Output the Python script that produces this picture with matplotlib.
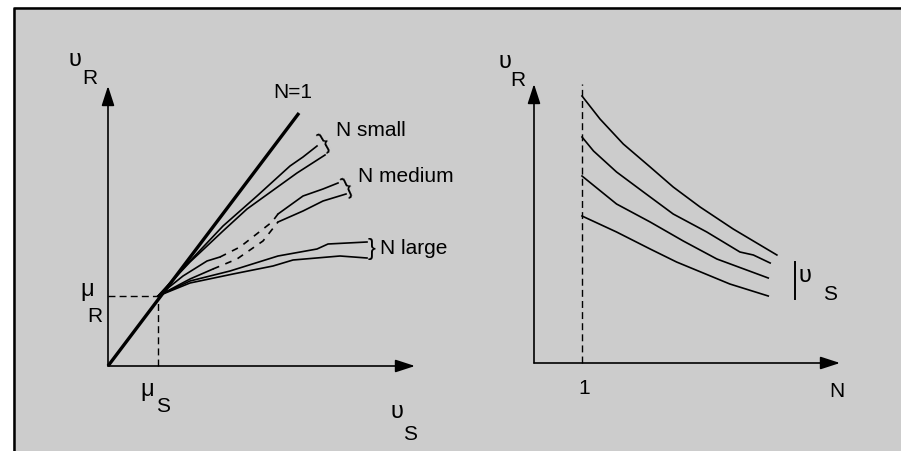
import matplotlib
matplotlib.use("Agg")
import matplotlib.pyplot as plt
from matplotlib.patches import Rectangle
from matplotlib.lines import Line2D

plt.rcParams['font.family'] = ['Liberation Sans', 'DejaVu Sans']

# ---- left panel data (units of 10 px from origin) ----
mu_S, mu_R = 5.0, 7.0
n1_x = [0.0, 19.1]
n1_y = [0.0, 25.3]

small_up_x = [5.0, 8.2, 11.5, 14.9, 18.2, 19.5, 20.9]
small_up_y = [7.0, 10.5, 14.0, 17.0, 20.0, 20.9, 22.0]
small_lo_x = [5.0, 8.2, 11.5, 13.9, 16.4, 18.9, 21.7]
small_lo_y = [7.0, 10.4, 13.5, 15.7, 17.5, 19.3, 21.1]

# medium curves: solid start, dashed middle, solid end
med_up_x = [[5.0, 7.5, 9.9, 11.2], [11.2, 13.2, 16.4, 17.0], [17.0, 19.5, 21.5, 23.0]]
med_up_y = [[7.0, 9.0, 10.5, 10.9], [10.9, 11.9, 14.4, 15.2], [15.2, 17.0, 17.7, 18.3]]
med_lo_x = [[5.0, 8.2, 10.5], [10.5, 12.9, 15.5, 17.0], [17.0, 19.5, 21.5, 23.8]]
med_lo_y = [[7.0, 8.7, 9.7], [9.7, 10.7, 12.5, 14.4], [14.4, 15.5, 16.5, 17.2]]

large_up_x = [5.0, 8.2, 12.2, 17.0, 20.9, 22.0, 25.9]
large_up_y = [7.0, 8.5, 9.5, 11.0, 11.7, 12.2, 12.4]
large_lo_x = [5.0, 8.2, 12.5, 16.5, 18.5, 23.2, 25.9]
large_lo_y = [7.0, 8.3, 9.2, 10.0, 10.6, 11.0, 10.8]

# ---- right panel data (x in N, y in units of 10 px) ----
r1_x = [1.0, 1.375, 1.86, 2.42, 2.90, 3.46, 4.15, 5.06]
r1_y = [26.7, 24.4, 21.9, 19.6, 17.6, 15.6, 13.4, 10.8]
r2_x = [1.0, 1.24, 1.72, 2.28, 2.90, 3.60, 4.29, 4.57, 4.92]
r2_y = [22.6, 21.2, 19.1, 17.1, 14.9, 13.1, 11.1, 10.8, 10.0]
r3_x = [1.0, 1.72, 2.42, 3.11, 3.81, 4.88]
r3_y = [18.7, 15.9, 14.1, 12.2, 10.4, 8.5]
r4_x = [1.0, 1.72, 2.42, 2.97, 4.08, 4.88]
r4_y = [14.7, 13.1, 11.4, 10.1, 7.9, 6.7]

FS = 15
GS = 17   # greek letters look a bit bigger
LW = 1.2

W, H = 901.0, 452.0
fig = plt.figure(figsize=(9.01, 4.52), dpi=100)
fig.patch.set_facecolor('#cccccc')
fig.patch.set_edgecolor('none')

# white margin on the left and top, black border line
fig.patches.append(Rectangle((0, 0), 12.5 / W, 1, transform=fig.transFigure,
                             facecolor='white', edgecolor='none', zorder=-5))
fig.patches.append(Rectangle((0, (H - 7.5) / H), 1, 7.5 / H, transform=fig.transFigure,
                             facecolor='white', edgecolor='none', zorder=-5))
fig.lines.append(Line2D([13.5 / W, 13.5 / W, 1.0], [0, (H - 8.5) / H, (H - 8.5) / H],
                        transform=fig.transFigure, color='black', lw=1.8,
                        solid_capstyle='butt', zorder=-4))


def px_axes(x0, x1, ytop, ybot):
    return fig.add_axes([x0 / W, (H - ybot) / H, (x1 - x0) / W, (ybot - ytop) / H])


def arrow(ax, start, tip):
    ax.annotate('', xy=tip, xytext=start,
                arrowprops=dict(arrowstyle='-|>,head_length=0.4,head_width=0.13',
                                mutation_scale=30, lw=LW, color='black',
                                shrinkA=0, shrinkB=0))


def label(ax, x, y, s, size=FS, **kw):
    ax.text(x, y, s, fontsize=size, ha='center', va='center', **kw)


# ================= left panel =================
ax = px_axes(88, 438, 57, 417)
ax.set_xlim(-2, 33)
ax.set_ylim(-5, 31)
ax.axis('off')

arrow(ax, (0, 0), (0, 28.0))
arrow(ax, (0, 0), (30.7, 0))
ax.plot([0, mu_S], [mu_R, mu_R], color='black', lw=1.0, ls=(0, (5, 3)))
ax.plot([mu_S, mu_S], [0, mu_R], color='black', lw=1.0, ls=(0, (5, 3)))
ax.plot(n1_x, n1_y, color='black', lw=2.4, solid_capstyle='butt')

for xs, ys in [(small_up_x, small_up_y), (small_lo_x, small_lo_y),
               (large_up_x, large_up_y), (large_lo_x, large_lo_y)]:
    ax.plot(xs, ys, color='black', lw=LW)
for segs_x, segs_y in [(med_up_x, med_up_y), (med_lo_x, med_lo_y)]:
    for i, (xs, ys) in enumerate(zip(segs_x, segs_y)):
        ax.plot(xs, ys, color='black', lw=LW,
                ls=(0, (4, 4)) if i == 1 else '-')

label(ax, 18.5, 27.4, 'N=1')
ax.text(21.7, 22.4, '}', fontsize=GS, ha='center', va='center', rotation=30)
ax.text(22.8, 23.7, 'N small', fontsize=FS, ha='left', va='center')
ax.text(24.0, 18.0, '}', fontsize=GS, ha='center', va='center', rotation=25)
ax.text(25.0, 19.0, 'N medium', fontsize=FS, ha='left', va='center')
ax.text(26.4, 11.8, '}', fontsize=GS, ha='center', va='center')
ax.text(27.2, 11.8, 'N large', fontsize=FS, ha='left', va='center')

label(ax, -3.3, 30.7, 'υ', GS)
label(ax, -1.8, 28.9, 'R')
label(ax, -2.1, 7.7, 'μ', GS)
label(ax, -1.3, 5.0, 'R')
label(ax, 3.9, -2.3, 'μ', GS)
label(ax, 5.5, -4.0, 'S')
label(ax, 28.9, -4.5, 'υ', GS)
label(ax, 30.2, -6.8, 'S')

# ================= right panel =================
ax2 = px_axes(510, 870, 57, 417)
ax2.set_xlim(-0.5, 7.0)
ax2.set_ylim(-5.3, 30.7)
ax2.axis('off')

arrow(ax2, (0, 0), (0, 27.9))
arrow(ax2, (0, 0), (6.375, 0))
ax2.plot([1, 1], [0, 27.9], color='black', lw=1.0, ls=(0, (5, 3)))
for xs, ys in [(r1_x, r1_y), (r2_x, r2_y), (r3_x, r3_y), (r4_x, r4_y)]:
    ax2.plot(xs, ys, color='black', lw=LW)
ax2.plot([5.44, 5.44], [6.4, 10.1], color='black', lw=1.4)

label(ax2, -0.6, 30.2, 'υ', GS)
label(ax2, -0.33, 28.4, 'R')
label(ax2, 1.04, -2.5, '1')
label(ax2, 6.31, -2.8, 'N')
label(ax2, 5.65, 8.8, 'υ', GS)
label(ax2, 6.17, 7.0, 'S')

fig.savefig('out.png', dpi=100, facecolor=fig.get_facecolor(), edgecolor='none')
